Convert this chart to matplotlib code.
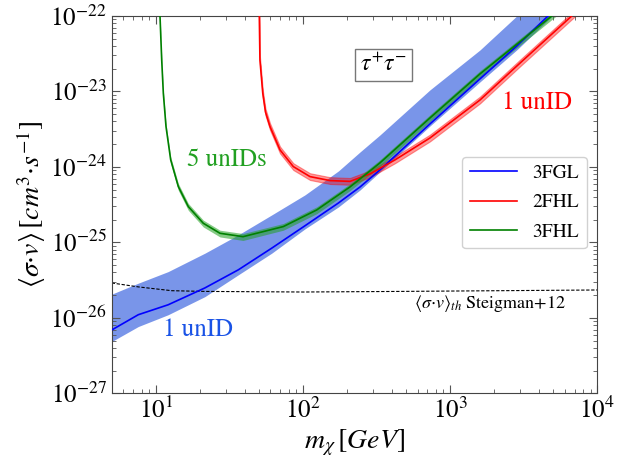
import numpy as np
import matplotlib
matplotlib.use("Agg")
import matplotlib.pyplot as plt
from matplotlib.ticker import LogLocator, NullFormatter

plt.rcParams['font.family'] = 'serif'
plt.rcParams['font.serif'] = ['STIXGeneral', 'Liberation Serif', 'DejaVu Serif']
plt.rcParams['mathtext.fontset'] = 'stix'

# 3FGL (1 unID)
m_fgl = [5.0, 7.58, 12.1, 21.5, 36.3, 61.2, 103, 174, 244, 333, 729, 1595, 2833, 4624, 10000]
sv_fgl = [6.9e-27, 1.10e-26, 1.49e-26, 2.49e-26, 4.33e-26, 8.38e-26, 1.66e-25, 3.33e-25,
          5.43e-25, 9.12e-25, 3.72e-24, 1.47e-23, 4.0e-23, 1.0e-22, 3.83e-22]
sv_fgl_hi = [2.06e-26, 2.88e-26, 4.10e-26, 7.19e-26, 1.26e-25, 2.31e-25, 4.26e-25, 8.85e-25,
             1.58e-24, 2.65e-24, 1.05e-23, 3.55e-23, 1.0e-22, 2.35e-22, 8.7e-22]
sv_fgl_lo = [4.85e-27, 7.67e-27, 1.10e-26, 1.91e-26, 3.72e-26, 7.19e-26, 1.51e-25, 2.95e-25,
             4.95e-25, 8.6e-25, 3.49e-24, 1.34e-23, 3.55e-23, 8.85e-23, 3.39e-22]

# 2FHL (1 unID)
m_fhl2 = [50.4, 50.9, 53.2, 55.5, 59.6, 69.7, 85.8, 111.4, 152.4, 208.4, 285.1, 421.7,
          729, 1595, 2985, 6699, 10000]
sv_fhl2 = [1e-22, 2.61e-23, 9.46e-24, 5.35e-24, 3.42e-24, 1.68e-24, 1.01e-24, 7.44e-25,
           6.59e-25, 6.43e-25, 8.08e-25, 1.24e-24, 2.42e-24, 7.71e-24, 2.38e-23, 1e-22, 2.04e-22]
sv_fhl2_hi = [1.11e-22, 2.89e-23, 1.05e-23, 5.93e-24, 3.79e-24, 1.86e-24, 1.12e-24, 8.25e-25,
              7.31e-25, 7.13e-25, 8.96e-25, 1.38e-24, 2.68e-24, 8.55e-24, 2.64e-23, 1.11e-22, 2.26e-22]
sv_fhl2_lo = [9.02e-23, 2.35e-23, 8.53e-24, 4.82e-24, 3.08e-24, 1.51e-24, 9.1e-25, 6.71e-25,
              5.94e-25, 5.80e-25, 7.29e-25, 1.12e-24, 2.18e-24, 6.95e-24, 2.15e-23, 9.02e-23, 1.84e-22]

# 3FHL (5 unIDs)
m_fhl3 = [10.65, 10.94, 11.22, 11.70, 12.59, 14.19, 16.59, 20.98, 27.24, 39.05, 73.4, 123.8,
          208.4, 333, 729, 1595, 4898, 10000]
sv_fhl3 = [1e-22, 2.61e-23, 9.46e-24, 3.42e-24, 1.24e-24, 5.48e-25, 2.98e-25, 1.79e-25, 1.32e-25,
           1.19e-25, 1.62e-25, 2.69e-25, 5.43e-25, 1.13e-24, 4.46e-24, 1.71e-23, 1e-22, 3.09e-22]
sv_fhl3_hi = [1.10e-22, 2.87e-23, 1.04e-23, 3.76e-24, 1.36e-24, 6.03e-25, 3.28e-25, 1.97e-25, 1.45e-25,
              1.31e-25, 1.78e-25, 2.96e-25, 5.97e-25, 1.24e-24, 4.91e-24, 1.88e-23, 1.10e-22, 3.40e-22]
sv_fhl3_lo = [8.93e-23, 2.33e-23, 8.45e-24, 3.05e-24, 1.11e-24, 4.89e-25, 2.66e-25, 1.60e-25, 1.18e-25,
              1.06e-25, 1.45e-25, 2.40e-25, 4.85e-25, 1.01e-24, 3.98e-24, 1.53e-23, 8.93e-23, 2.76e-22]

# thermal relic cross section (Steigman+12)
m_th = [5.0, 7.6, 12.8, 21.5, 100, 456, 10000]
sv_th = [2.9e-26, 2.57e-26, 2.29e-26, 2.24e-26, 2.2e-26, 2.24e-26, 2.34e-26]

fig = plt.figure(figsize=(6.25, 4.63), dpi=100)
ax = fig.add_axes([0.1787, 0.1505, 0.777, 0.815])

ax.fill_between(m_fgl, sv_fgl_lo, sv_fgl_hi, color='royalblue', alpha=0.7, lw=0, zorder=1)
ax.plot(m_fgl, sv_fgl, color='blue', lw=1.2, label='3FGL', zorder=3)

ax.fill_between(m_fhl2, sv_fhl2_lo, sv_fhl2_hi, color='red', alpha=0.4, lw=0.8, zorder=2)
ax.plot(m_fhl2, sv_fhl2, color='red', lw=1.2, label='2FHL', zorder=3)

ax.fill_between(m_fhl3, sv_fhl3_lo, sv_fhl3_hi, color='#22a022', alpha=0.55, lw=0, zorder=2)
ax.plot(m_fhl3, sv_fhl3, color='green', lw=1.2, label='3FHL', zorder=4)

ax.plot(m_th, sv_th, color='black', ls='--', lw=0.8, dashes=(3, 1.5), zorder=2)

ax.set_xscale('log')
ax.set_yscale('log')
ax.set_xlim(5, 1e4)
ax.set_ylim(1e-27, 1e-22)

ax.yaxis.set_minor_locator(LogLocator(base=10, subs=np.arange(2, 10), numticks=20))
ax.yaxis.set_minor_formatter(NullFormatter())
ax.xaxis.set_minor_formatter(NullFormatter())
ax.tick_params(which='both', direction='in', top=True, right=True, color='#555555')
ax.tick_params(which='major', length=6, labelsize=18)
ax.tick_params(which='minor', length=3)
for s in ax.spines.values():
    s.set_color('#444444')

ax.set_xlabel(r'$m_{\chi}\,[GeV]$', fontsize=20, labelpad=2)
ax.set_ylabel(r'$\langle\sigma{\cdot}v\rangle\,[cm^{3}{\cdot}s^{-1}]$', fontsize=20, labelpad=2)

ax.text(351, 2.24e-23, r'$\tau^{+}\tau^{-}$', fontsize=17, ha='center', va='center',
        bbox=dict(boxstyle='square,pad=0.2', fc='white', ec='#777777'))
ax.text(30.3, 1.24e-24, '5 unIDs', color='#22a022', fontsize=18, ha='center', va='center')
ax.text(3873, 6.97e-24, '1 unID', color='red', fontsize=18, ha='center', va='center')
ax.text(19.2, 6.93e-27, '1 unID', color='#1a53e6', fontsize=18, ha='center', va='center')
ax.text(1866, 1.57e-26, r'$\langle\sigma{\cdot}v\rangle_{th}$ Steigman+12', fontsize=13,
        ha='center', va='center')

ax.legend(loc='upper right', bbox_to_anchor=(0.978, 0.627), borderaxespad=0, fontsize=14,
          handlelength=2.4, labelspacing=0.6, fancybox=True, framealpha=0.9)

fig.savefig('out.png', dpi=100)
